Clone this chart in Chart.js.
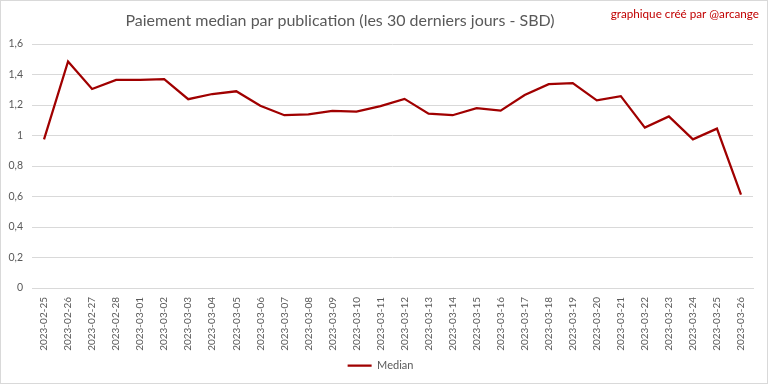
<!DOCTYPE html>
<html>
<head>
<meta charset="utf-8">
<script src="https://cdn.jsdelivr.net/npm/chart.js@4"></script>
<style>
  html, body { margin: 0; padding: 0; background: #fff; }
</style>
</head>
<body>
<canvas id="chart" width="768" height="384"></canvas>
<script>
const dates = [
  '2023-02-25', '2023-02-26', '2023-02-27', '2023-02-28', '2023-03-01', '2023-03-02',
  '2023-03-03', '2023-03-04', '2023-03-05', '2023-03-06', '2023-03-07', '2023-03-08',
  '2023-03-09', '2023-03-10', '2023-03-11', '2023-03-12', '2023-03-13', '2023-03-14',
  '2023-03-15', '2023-03-16', '2023-03-17', '2023-03-18', '2023-03-19', '2023-03-20',
  '2023-03-21', '2023-03-22', '2023-03-23', '2023-03-24', '2023-03-25', '2023-03-26'
];
const median = [
  0.975, 1.485, 1.305, 1.365, 1.365, 1.37,
  1.238, 1.272, 1.29, 1.195, 1.133, 1.138,
  1.162, 1.157, 1.193, 1.24, 1.143, 1.133,
  1.18, 1.163, 1.265, 1.337, 1.343, 1.23,
  1.258, 1.052, 1.125, 0.975, 1.045, 0.612
];
const yTicks = [0, 0.2, 0.4, 0.6, 0.8, 1, 1.2, 1.4, 1.6];

const grey = '#595959';
const red = '#a00000';
const font = 'Lato, "Open Sans", sans-serif';

// title, signature and frame are drawn by hand so they sit where Excel put them
const decorations = {
  id: 'decorations',
  afterDraw(chart) {
    const ctx = chart.ctx;
    ctx.save();
    ctx.strokeStyle = '#d9d9d9';
    ctx.lineWidth = 1;
    ctx.strokeRect(0.5, 0.5, 767, 383);
    ctx.textBaseline = 'middle';
    ctx.textAlign = 'center';
    ctx.fillStyle = grey;
    ctx.font = '16px ' + font;
    ctx.fillText('Paiement median par publication (les 30 derniers jours - SBD)', 340, 21);
    ctx.textAlign = 'right';
    ctx.fillStyle = '#c00000';
    ctx.font = '11.7px ' + font;
    ctx.fillText('graphique créé par @arcange', 759, 14);
    ctx.restore();
  }
};

new Chart(document.getElementById('chart').getContext('2d'), {
  type: 'line',
  data: {
    labels: dates,
    datasets: [{
      label: 'Median',
      data: median,
      borderColor: red,
      backgroundColor: red,
      borderWidth: 2.25,
      pointRadius: 0,
      tension: 0,
      fill: false
    }]
  },
  options: {
    responsive: false,
    animation: false,
    layout: { padding: { left: 8, right: 15, top: 44, bottom: 3 } },
    plugins: {
      title: { display: false },
      legend: {
        display: true,
        position: 'bottom',
        labels: {
          color: grey,
          font: { family: font, size: 11 },
          boxWidth: 24,
          boxHeight: 0,
          padding: 4
        }
      },
      tooltip: { enabled: false }
    },
    scales: {
      x: {
        offset: true,
        grid: { display: false, drawTicks: false },
        border: { color: '#d9d9d9' },
        afterFit: axis => { axis.height = 68; },
        ticks: {
          color: grey,
          font: { family: font, size: 10 },
          maxRotation: 90,
          minRotation: 90,
          autoSkip: false,
          padding: 9
        }
      },
      y: {
        min: 0,
        max: 1.6,
        afterBuildTicks: axis => { axis.ticks = yTicks.map(v => ({ value: v })); },
        afterFit: axis => { axis.width = 24; },
        grid: { color: '#d9d9d9', drawTicks: false },
        border: { display: false },
        ticks: {
          color: grey,
          font: { family: font, size: 10.5 },
          padding: 9,
          callback: v => String(v).replace('.', ',')
        }
      }
    }
  },
  plugins: [decorations]
});
</script>
</body>
</html>
